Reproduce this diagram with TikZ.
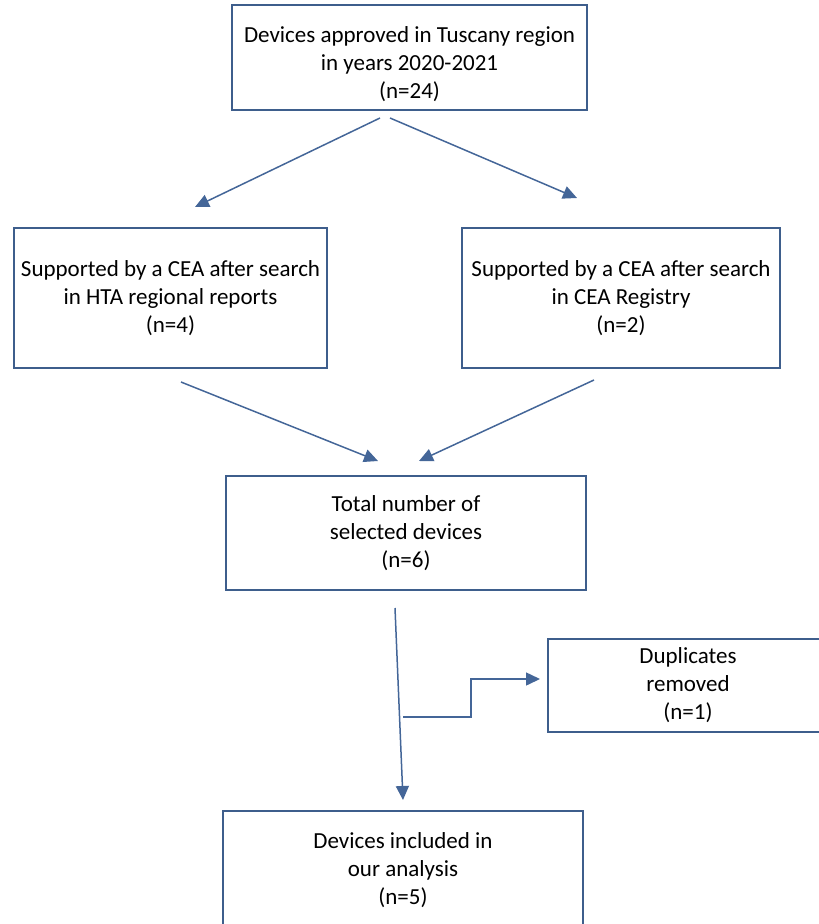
\documentclass[tikz,border=0pt]{standalone}
\usepackage{fontspec}
\setmainfont{Carlito}
\usetikzlibrary{arrows.meta}
\definecolor{boxblue}{RGB}{62,94,140}
\definecolor{arrowblue}{RGB}{68,102,152}
\tikzset{every picture/.style={x=1pt,y=-1pt},
flowbox/.style={draw=boxblue,line width=1.7pt,align=center,inner sep=0pt,font=\fontsize{23}{28}\selectfont},
flowarrow/.style={draw=arrowblue,line width=1.5pt,-{Triangle[length=14pt,width=13pt]}}}

\begin{document}
\begin{tikzpicture}
\useasboundingbox (0,0) rectangle (819,924);
\clip (0,0) rectangle (819,924);
\node[flowbox,minimum width=355pt,minimum height=105pt] (approved) at (409.5,57.5) {\rule{0pt}{30pt}Devices approved in Tuscany region\\in years 2020-2021\\(n=24)};
\node[flowbox,minimum width=313pt,minimum height=140pt] (hta) at (170.5,298) {Supported by a CEA after search\\in HTA regional reports\\(n=4)};
\node[flowbox,minimum width=318pt,minimum height=140pt] (registry) at (621,298) {Supported by a CEA after search\\in CEA Registry\\(n=2)};
\node[flowbox,minimum width=360pt,minimum height=114pt] (total) at (406,533) {Total number of\\selected devices\\(n=6)};
\node[flowbox,minimum width=280pt,minimum height=93pt] (dup) at (688,685.5) {Duplicates\\removed\\(n=1)};
\node[flowbox,minimum width=360pt,minimum height=118pt] (included) at (403,870) {Devices included in\\our analysis\\(n=5)};
\coordinate (a1) at (380,118);
\coordinate (a2) at (195,207);
\coordinate (b1) at (390,118);
\coordinate (b2) at (577,198);
\coordinate (c1) at (181,382);
\coordinate (c2) at (378,461);
\coordinate (d1) at (594,380);
\coordinate (d2) at (419,461);
\coordinate (e1) at (395,608);
\coordinate (e2) at (403,800);
\coordinate (f1) at (403,717);
\coordinate (f2) at (540,679);
\draw[flowarrow] (a1) -- (a2);
\draw[flowarrow] (b1) -- (b2);
\draw[flowarrow] (c1) -- (c2);
\draw[flowarrow] (d1) -- (d2);
\draw[flowarrow] (e1) -- (e2);
\draw[flowarrow] (f1) -- (471,717) -- (471,679) -- (f2);
\end{tikzpicture}
\end{document}
